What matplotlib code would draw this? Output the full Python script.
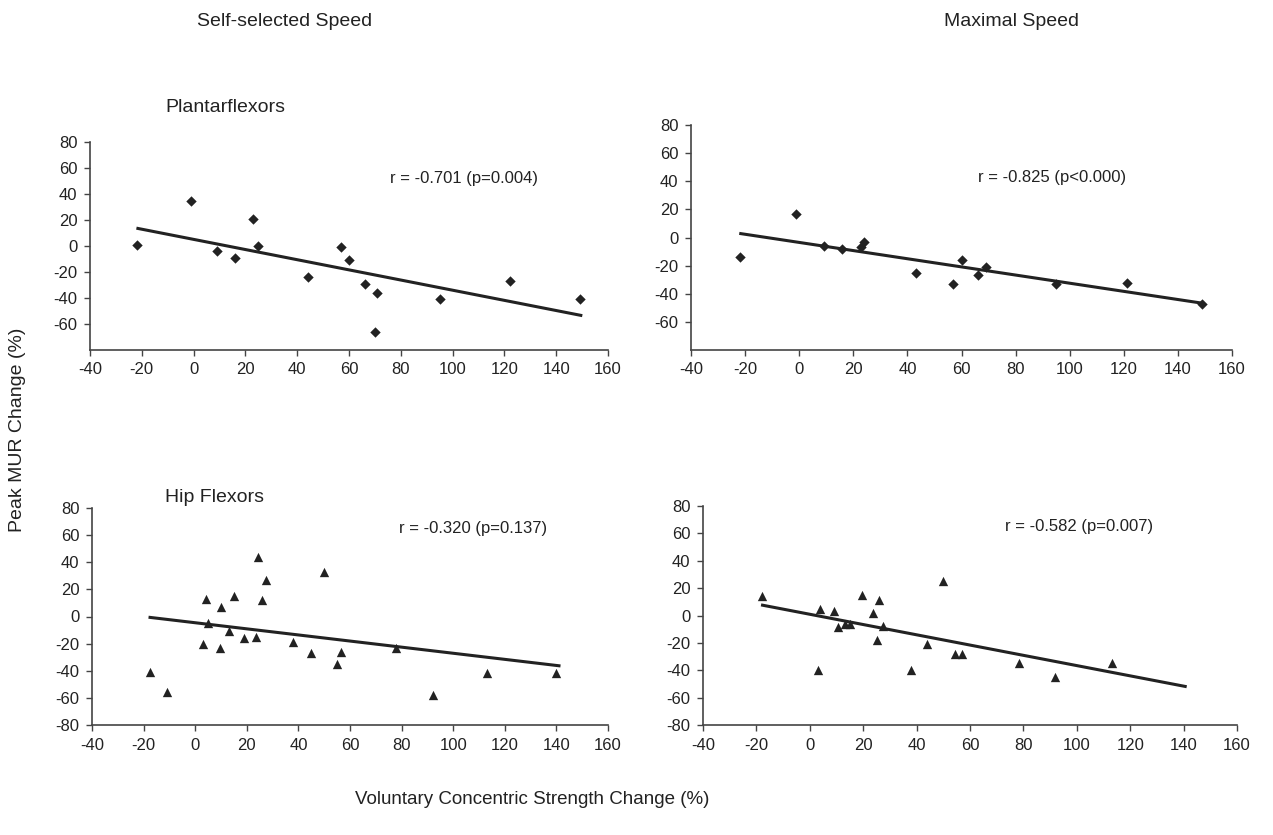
import numpy as np
import matplotlib.pyplot as plt

plt.rcParams['font.family'] = ['Liberation Sans', 'DejaVu Sans']
plt.rcParams['axes.unicode_minus'] = False

# values
pf_self_x = [-22, -1, 9, 16, 23, 25, 44, 57, 60, 66, 71, 70, 95, 122, 149]
pf_self_y = [1, 35, -4, -9, 21, 0, -24, -1, -11, -29, -36, -66, -41, -27, -41]

pf_max_x = [-22, -1, 9, 16, 23, 24, 43, 57, 60, 66, 69, 95, 121, 149]
pf_max_y = [-14, 17, -6, -8, -7, -3, -25, -33, -16, -27, -21, -33, -32, -47]

hf_self_x = [-17.5, -11, 3, 4, 5, 9.5, 10, 13, 15, 19, 23.5, 24.5, 26, 27.5,
             38, 45, 50, 55, 56.5, 78, 92, 113, 140]
hf_self_y = [-41, -56, -20, 13, -5, -23, 7, -11, 15, -16, -15, 44, 12, 27,
             -19, -27, 33, -35, -26, -23, -58, -42, -42]

hf_max_x = [-18, 3, 4, 9, 10.5, 13, 15, 19.5, 23.5, 25, 26, 27.5, 38, 44,
            50, 54.5, 57, 78.5, 92, 113]
hf_max_y = [14.5, -40, 5, 3, -8.5, -6, -6, 15, 2, -18, 11, -8, -40, -21,
            25, -28, -28, -35, -45, -35]

# trend lines as drawn (slope, intercept, x start, x end)
fit_slope = [-0.391, -0.290, -0.225, -0.375]
fit_icpt = [5.1, -3.5, -4.6, 0.9]
fit_x0 = [-21.5, -21.6, -17.5, -17.7]
fit_x1 = [149.5, 149.0, 141.0, 140.6]

r_texts = ["r = -0.701 (p=0.004)", "r = -0.825 (p<0.000)",
           "r = -0.320 (p=0.137)", "r = -0.582 (p=0.007)"]

W, H = 1273, 835
fig = plt.figure(figsize=(W / 100, H / 100), dpi=100)

def px_axes(x0, x1, y0, y1):
    return fig.add_axes([x0 / W, 1 - y1 / H, (x1 - x0) / W, (y1 - y0) / H])

boxes = [(90, 608, 142, 350), (691, 1232, 125, 350),
         (92, 608, 508, 725), (703, 1237, 506, 725)]
xs = [pf_self_x, pf_max_x, hf_self_x, hf_max_x]
ys = [pf_self_y, pf_max_y, hf_self_y, hf_max_y]
markers = ['D', 'D', '^', '^']
msizes = [28, 28, 45, 45]
r_pos = [(76, 52), (66, 43), (79, 65), (73, 65)]

ink = '#222222'
for i, b in enumerate(boxes):
    ax = px_axes(*b)
    ax.scatter(xs[i], ys[i], marker=markers[i], s=msizes[i], color=ink,
               linewidths=0, zorder=3)
    lx = np.array([fit_x0[i], fit_x1[i]])
    ax.plot(lx, fit_slope[i] * lx + fit_icpt[i], color=ink, lw=2.2, zorder=2)
    ax.set_xlim(-40, 160)
    ax.set_ylim(-80, 80)
    ax.set_xticks(range(-40, 161, 20))
    if i < 2:
        ax.set_yticks(range(-60, 81, 20))
    else:
        ax.set_yticks(range(-80, 81, 20))
    for s in ['top', 'right']:
        ax.spines[s].set_visible(False)
    for s in ['left', 'bottom']:
        ax.spines[s].set_color('#444444')
        ax.spines[s].set_linewidth(1.2)
    ax.tick_params(direction='out', length=4, width=1, color='#444444',
                   labelsize=12, labelcolor=ink, pad=5)
    ax.text(r_pos[i][0], r_pos[i][1], r_texts[i], fontsize=12, color=ink,
            va='center', ha='left')

def ftext(x, y, s, **kw):
    fig.text(x / W, 1 - y / H, s, color=ink, **kw)

ftext(285, 22, "Self-selected Speed", fontsize=14, ha='center', va='center')
ftext(1012, 22, "Maximal Speed", fontsize=14, ha='center', va='center')
ftext(165, 108, "Plantarflexors", fontsize=14, ha='left', va='center')
ftext(165, 498, "Hip Flexors", fontsize=14, ha='left', va='center')
ftext(18, 430, "Peak MUR Change (%)", fontsize=14, ha='center', va='center',
      rotation=90)
ftext(532, 800, "Voluntary Concentric Strength Change (%)", fontsize=13.5,
      ha='center', va='center')

fig.savefig("out.png", dpi=100, facecolor='white')
